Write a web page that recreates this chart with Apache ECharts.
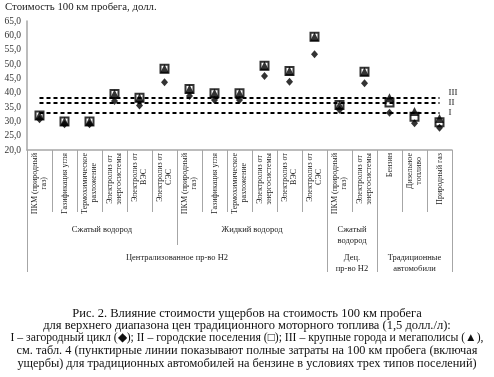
<!DOCTYPE html>
<html>
<head>
<meta charset="utf-8">
<script src="https://cdn.jsdelivr.net/npm/echarts@6/dist/echarts.min.js"></script>
<style>
html, body { margin: 0; padding: 0; background: #fff; }
#main { width: 494px; height: 377px; }
</style>
</head>
<body>
<div id="main"></div>
<script>
// подписи категорий
var categories = [
  'ПКМ (природный\nгаз)', 'Газификация угля', 'Термохимическое\nразложение',
  'Электролиз от\nэнергосистемы', 'Электролиз от\nВЭС', 'Электролиз от\nСЭС',
  'ПКМ (природный\nгаз)', 'Газификация угля', 'Термохимическое\nразложение',
  'Электролиз от\nэнергосистемы', 'Электролиз от\nВЭС', 'Электролиз от\nСЭС',
  'ПКМ (природный\nгаз)', 'Электролиз от\nэнергосистемы',
  'Бензин', 'Дизельное\nтопливо', 'Природный газ'
];
// группы (первый и второй уровень)
var groupNames1 = ['Сжатый водород', 'Жидкий водород', 'Сжатый\nводород', ''];
var groupSpans1 = [6, 6, 2, 3];
var groupNames2 = ['Централизованное пр-во Н2', 'Дец.\nпр-во Н2', 'Традиционные\nавтомобили'];
var groupSpans2 = [12, 2, 3];

// I - загородный цикл, II - городские поселения, III - крупные города
var valI = [30.7, 29.0, 29.0, 37.1, 35.5, 43.6, 38.8, 37.4, 37.4, 45.8, 43.8, 53.4, 34.0, 43.3, 33.0, 29.3, 27.8];
var valII = [32.0, 29.9, 29.9, 39.5, 38.2, 48.3, 41.3, 39.8, 39.8, 49.4, 47.6, 59.5, 35.7, 47.3, 36.6, 31.6, 29.7];
var valIII = [32.0, 29.9, 29.9, 39.5, 38.2, 48.3, 41.3, 39.8, 39.8, 49.4, 47.6, 59.5, 35.7, 47.3, 38.2, 33.4, 31.0];
var lineNames = ['I', 'II', 'III'];
var benzinIndex = 14;

var yMin = 20, yMax = 65, yStep = 5;

var captionLines = [
  'Рис. 2. Влияние стоимости ущербов на стоимость 100 км пробега',
  'для верхнего диапазона цен традиционного моторного топлива (1,5 долл./л):',
  'I – загородный цикл (◆); II – городские поселения (□); III – крупные города и мегаполисы (▲),',
  'см. табл. 4 (пунктирные линии показывают полные затраты на 100 км пробега (включая',
  'ущербы) для традиционных автомобилей на бензине в условиях трех типов поселений)'
];

var FONT = 'Liberation Serif';
var GRAY = '#a6a6a6';

// строки подписи центрируем относительно друг друга (как в Excel):
// к короткой строке добавляем пробелы в конце
var ctx = document.createElement('canvas').getContext('2d');
ctx.font = '8px "Liberation Serif"';
var spaceW = ctx.measureText('\u00a0').width;
function centerLines(s) {
  var lines = s.split('\n');
  var ws = lines.map(function (l) { return ctx.measureText(l).width; });
  var W = Math.max.apply(null, ws);
  return lines.map(function (l, i) {
    var n = Math.round((W - ws[i]) / 2 / spaceW);
    return l + new Array(n + 1).join('\u00a0');
  }).join('\n');
}

// границы и центры групп
function groupInfo(names, spans) {
  var bounds = [0], centers = {}, pos = 0;
  for (var i = 0; i < spans.length; i++) {
    centers[String(pos + spans[i] / 2)] = names[i];
    pos += spans[i];
    bounds.push(pos);
  }
  return { bounds: bounds, centers: centers };
}
var g1 = groupInfo(groupNames1, groupSpans1);
var g2 = groupInfo(groupNames2, groupSpans2);

function tickAxis(bounds, len) {
  return {
    type: 'category', data: categories, gridIndex: 0, position: 'bottom',
    axisLine: { show: false, onZero: false },
    axisLabel: { show: false },
    axisTick: {
      show: true, length: len,
      interval: function (idx) { return bounds.indexOf(idx) >= 0; },
      lineStyle: { color: GRAY, width: 1 }
    },
    splitLine: { show: false }
  };
}

function groupAxis(centers, margin) {
  return {
    type: 'value', gridIndex: 0, position: 'bottom',
    min: 0, max: categories.length, interval: 0.5,
    axisLine: { show: false, onZero: false },
    axisTick: { show: false },
    splitLine: { show: false },
    axisLabel: {
      show: true, margin: margin, fontFamily: FONT, fontSize: 8.5, lineHeight: 10.5,
      color: '#222', align: 'center',
      formatter: function (v) { return centers[String(v)] || ''; }
    }
  };
}

function markLineFor(vals, k) {
  var v = vals[benzinIndex];
  return {
    silent: true, symbol: ['none', 'none'], animation: false,
    lineStyle: { color: '#000', type: [4, 3], width: 2 },
    label: {
      show: true, position: 'end', distance: 9, formatter: lineNames[k],
      fontFamily: FONT, fontSize: 9, color: '#222',
      offset: [0, k === 2 ? -5 : 0]
    },
    data: [[{ coord: [0, v] }, { coord: [categories.length - 1, v] }]]
  };
}

var chart = echarts.init(document.getElementById('main'));
var option = {
  animation: false,
  backgroundColor: '#fff',
  title: [{
    text: 'Стоимость 100 км пробега, долл.', left: 5, top: 2, padding: 0,
    textStyle: { fontFamily: FONT, fontSize: 10.8, fontWeight: 'normal', color: '#222' }
  }].concat(captionLines.map(function (t, i) {
    return {
      text: t, left: 247, top: 307 + i * 12.6, padding: 0, textAlign: 'center',
      textStyle: { fontFamily: FONT, fontSize: [12.5, 12.5, 11.7, 12.3, 12.3][i], fontWeight: 'normal', color: '#111' }
    };
  })),
  grid: { left: 27, right: 42, top: 21, bottom: 227, containLabel: false, outerBoundsMode: 'none' },
  xAxis: [
    {
      type: 'category', gridIndex: 0, position: 'bottom', data: categories,
      axisLine: { show: true, onZero: false, lineStyle: { color: GRAY, width: 1.5 } },
      axisTick: { show: true, length: 62, lineStyle: { color: GRAY, width: 1 } },
      axisLabel: {
        interval: 0, rotate: 90, margin: 3, color: '#222',
        fontFamily: FONT, fontSize: 8, lineHeight: 9,
        formatter: centerLines
      },
      splitLine: { show: false }
    },
    tickAxis(g1.bounds, 95),
    tickAxis(g2.bounds, 122),
    groupAxis(g1.centers, 75),
    groupAxis(g2.centers, 103)
  ],
  yAxis: {
    type: 'value', min: yMin, max: yMax, interval: yStep,
    axisLine: { show: true, lineStyle: { color: GRAY, width: 1.5 } },
    axisTick: { show: false },
    splitLine: { show: false },
    axisLabel: {
      margin: 6, fontFamily: FONT, fontSize: 9.5, color: '#333',
      formatter: function (v) { return v.toFixed(1).replace('.', ','); }
    }
  },
  series: [
    {
      name: 'II', type: 'scatter', data: valII, symbol: 'rect', symbolSize: 8,
      itemStyle: { color: '#fff', borderColor: '#000', borderWidth: 2 },
      markLine: markLineFor(valII, 1)
    },
    {
      name: 'III', type: 'scatter', data: valIII, symbol: 'triangle', symbolSize: 9,
      itemStyle: { color: '#000' },
      markLine: markLineFor(valIII, 2)
    },
    {
      name: 'I', type: 'scatter', data: valI, symbol: 'diamond', symbolSize: [7, 8],
      itemStyle: { color: '#000' },
      markLine: markLineFor(valI, 0)
    }
  ]
};
chart.setOption(option);
</script>
</body>
</html>
